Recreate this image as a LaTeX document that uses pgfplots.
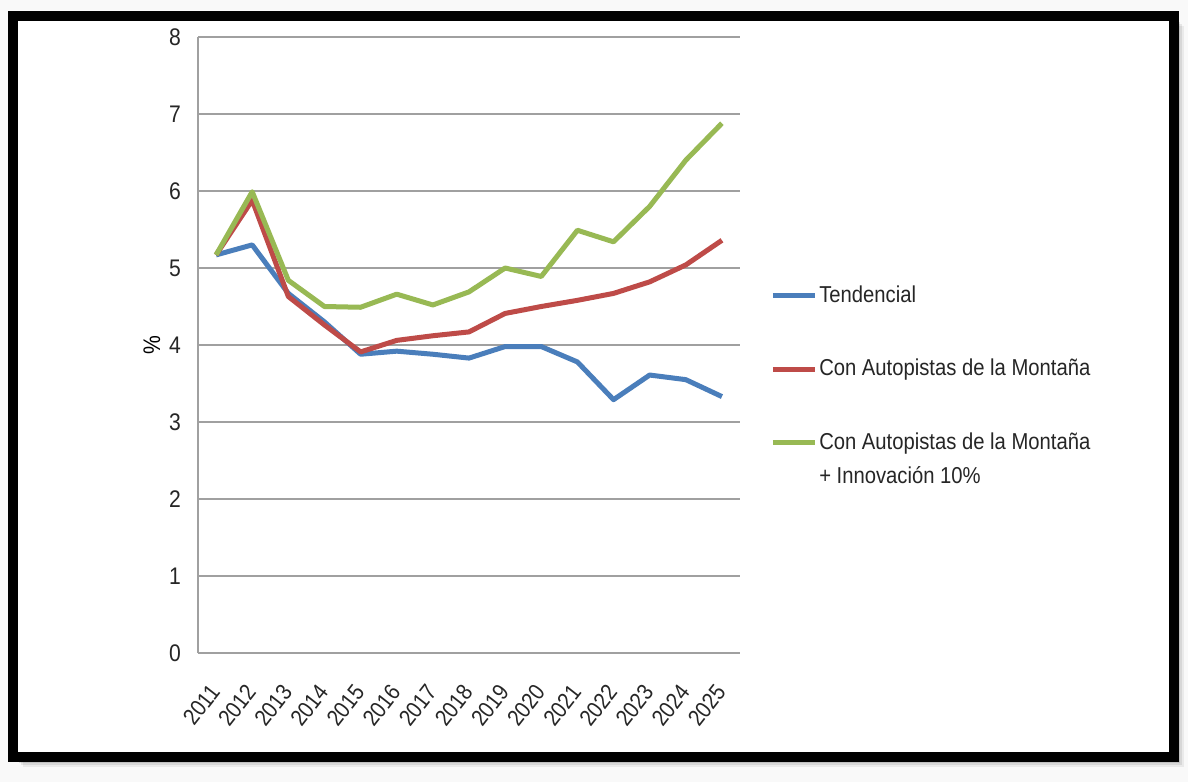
\documentclass[border=0pt]{standalone}
\usepackage{fontspec}
\setmainfont{Liberation Sans}[FakeStretch=0.88]
\usepackage{pgfplots}
\usepackage{pgfplotstable}
\pgfplotsset{compat=1.18}

\definecolor{tendBlue}{RGB}{74,126,187}
\definecolor{autoRed}{RGB}{190,75,72}
\definecolor{innoGreen}{RGB}{152,185,84}
\definecolor{gridGray}{RGB}{160,160,160}

% legend key level with the first line of a two-line entry
\pgfplotsset{firstline legend/.style={legend image code/.code={
  \path[draw=none] (0pt,-8.5pt) -- (21pt,-8.5pt);
  \draw[##1] (0pt,8.5pt) -- (21pt,8.5pt);}}}

% idx: 0 = 2011 ... 14 = 2025
\pgfplotstableread{
idx tend auto inno
0  5.17 5.17 5.17
1  5.30 5.88 5.99
2  4.67 4.63 4.84
3  4.30 4.26 4.50
4  3.88 3.91 4.49
5  3.92 4.06 4.66
6  3.88 4.12 4.52
7  3.83 4.17 4.69
8  3.98 4.41 5.00
9  3.98 4.50 4.89
10 3.78 4.58 5.49
11 3.29 4.67 5.34
12 3.61 4.82 5.80
13 3.55 5.04 6.40
14 3.33 5.36 6.88
}\escenarios

\begin{document}
\begin{tikzpicture}[x=1pt,y=1pt]
  % page background and framed card
  \path[use as bounding box, fill=gray!5] (0,0) rectangle (594,391);
  \foreach \d/\o in {5/0.06,4/0.08,3/0.10,2/0.12,1/0.14}{
    \fill[black, opacity=\o] (6.5+\d,12.5-\d) rectangle (587+\d,383-\d);
  }
  \fill[white] (6.5,12.5) rectangle (587,383);
  \draw[line width=5pt] (6.5,12.5) rectangle (587,383);

  \begin{axis}[
    at={(99pt,64.5pt)}, anchor=south west,
    scale only axis, width=271pt, height=308pt,
    xmin=-0.5, xmax=14.5, ymin=0, ymax=8,
    xtick={0,...,14},
    xticklabels={2011,2012,2013,2014,2015,2016,2017,2018,2019,2020,2021,2022,2023,2024,2025},
    ytick={0,...,8},
    axis x line*=bottom, axis y line*=left,
    axis line style={gridGray, line width=1pt, -},
    major tick length=0pt,
    ymajorgrids, grid style={gridGray, line width=1pt},
    /pgf/number format/assume math mode=true,
    tick label style={font=\fontsize{12}{14}\selectfont, black!85},
    yticklabel style={xshift=-5pt},
    xticklabel style={xshift=1.5pt, yshift=-14.5pt, rotate=52, anchor=east,
      font=\fontsize{11.5}{14}\selectfont},
    ylabel={\%},
    ylabel style={at={(axis description cs:-0.085,0.5)}, anchor=center, font=\fontsize{12}{14}\selectfont},
    legend style={at={(axis description cs:1.044,0.61)}, anchor=north west,
      draw=none, fill=none, font=\fontsize{11.5}{17}\selectfont, text=black!85,
      row sep=23pt, cells={anchor=west, align=left}, nodes={inner xsep=1pt}},
    legend image code/.code={\draw[#1] (0pt,0pt) -- (21pt,0pt);},
    every axis plot/.append style={line width=2.5pt, line join=round},
  ]
    \addplot[tendBlue] table[x=idx, y=tend] {\escenarios};
    \addlegendentry{Tendencial}
    \addplot[autoRed] table[x=idx, y=auto] {\escenarios};
    \addlegendentry{Con Autopistas de la Montaña}
    \addplot[innoGreen, firstline legend] table[x=idx, y=inno] {\escenarios};
    \addlegendentry{Con Autopistas de la Montaña\\+ Innovación 10\%}
  \end{axis}
\end{tikzpicture}
\end{document}
